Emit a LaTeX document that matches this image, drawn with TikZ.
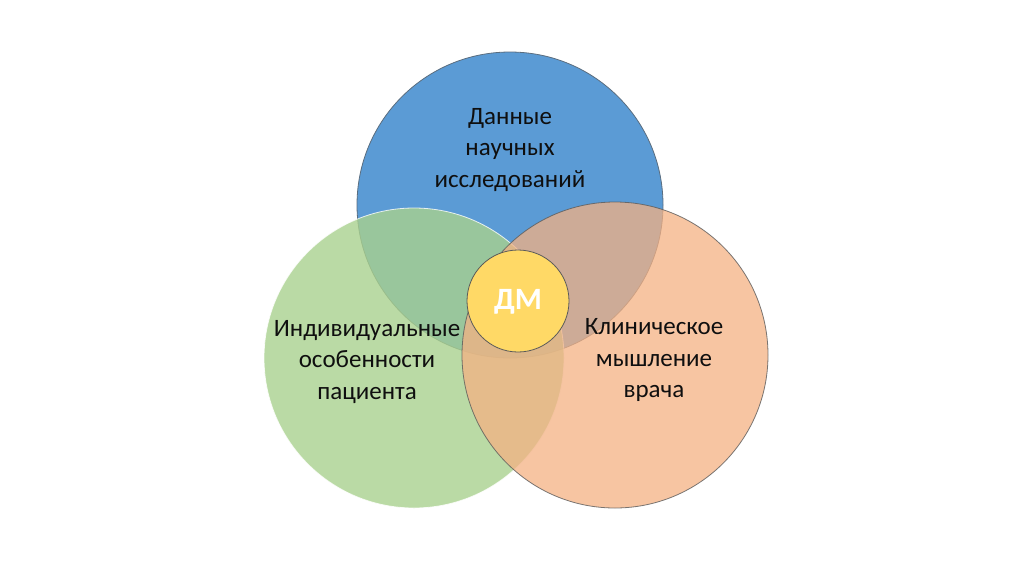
\documentclass[tikz,border=0pt]{standalone}
\usepackage{fontspec}
\setmainfont{Carlito}
\definecolor{cblue}{RGB}{91,155,213}
\definecolor{cgreen}{RGB}{169,209,142}
\definecolor{corange}{RGB}{244,177,131}
\definecolor{cyellow}{RGB}{255,217,102}
\definecolor{cline}{RGB}{90,90,90}
\definecolor{ctext}{RGB}{15,15,15}
\begin{document}
\begin{tikzpicture}[x=1pt,y=-1pt,
  venn/.style={circle,inner sep=0pt,line width=0.8pt},
  lbl/.style={align=center,font=\fontsize{25}{31.5}\selectfont,text=ctext}]
\useasboundingbox (0,0) rectangle (1024,574);
\node[venn,minimum size=306pt,fill=cblue,draw=cline!70!cblue] (blue) at (510,205) {};
\node[venn,minimum size=300pt,fill=cgreen,fill opacity=0.8,draw=white,draw opacity=0.8] (green) at (414,358) {};
\node[venn,minimum size=306pt,fill=corange,fill opacity=0.75,draw=cline,draw opacity=0.8] (orange) at (615,355) {};
\node[venn,minimum size=102pt,fill=cyellow,draw=cline] (dm) at (518,301) {};
\node[font=\fontsize{31}{36}\selectfont\bfseries,text=white] (dmt) at (518,302) {ДМ};
\node[lbl] (tblue) at (510,150) {Данные\\научных\\исследований};
\node[lbl] (tgreen) at (367,362) {Индивидуальные\\особенности\\пациента};
\node[lbl] (torange) at (654,360) {Клиническое\\мышление\\врача};
\end{tikzpicture}
\end{document}
